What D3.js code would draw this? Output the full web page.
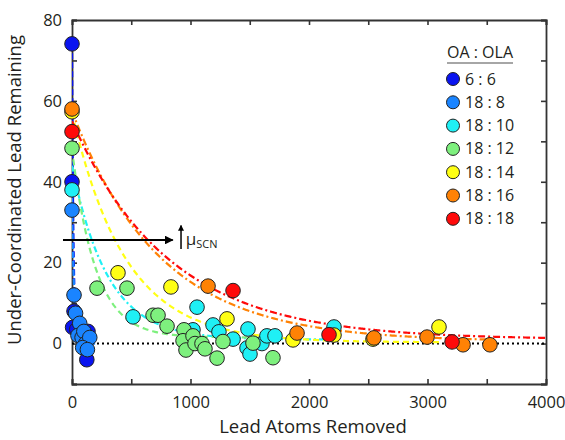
<!DOCTYPE html>
<html>
<head>
<meta charset="utf-8">
<script src="https://cdn.jsdelivr.net/npm/d3@7"></script>
<style>
  body { margin: 0; background: #fff; }
  text { font-family: "Open Sans", "Noto Sans", sans-serif; fill: #231f20; }
</style>
</head>
<body>
<div id="chart"></div>
<script>
// series labels and colours
var ratios = ["6 : 6", "18 : 8", "18 : 10", "18 : 12", "18 : 14", "18 : 16", "18 : 18"]
var colors = ["#0a14f0", "#1a84ff", "#1ff0f5", "#7ef07e", "#ffff14", "#ff8205", "#ff0a0a"]

// points [lead removed, under-coordinated remaining]
var pts66 = [[0, 74.1], [0, 40], [17, 8], [5, 4], [40, 3.5], [135, 3], [125, -4]]
var pts188 = [[0, 33], [17, 12], [30, 7.5], [65, 5], [50, 2], [85, 1.5], [100, 3], [115, 0], [150, 1.5], [90, -1], [130, -1.5]]
var pts1810 = [[0, 38], [515, 6.6], [1021, 3.4], [1055, 9], [1190, 4.6], [1240, 2.9], [1359, 1.1], [1485, 3.6],
  [1477, -1.1], [1502, -2.6], [1603, 0], [1645, 1.9], [1713, 1.9], [2211, 4.1]]
var pts1812 = [[0, 48.3], [211, 13.7], [464, 13.7], [684, 7], [726, 7], [802, 4.3], [945, 3.4], [937, 0.7], [1021, 1.9],
  [962, -1.6], [1038, 0], [1097, 0], [1122, -1.3], [1224, -3.6], [1274, 0.5], [1527, 0.1], [1696, -3.5]]
var pts1814 = [[0, 57.3], [388, 17.5], [835, 14], [1308, 6.1], [1865, 0.9], [2211, 2.1], [2540, 1.1], [3097, 4.1]]
var pts1816 = [[0, 58], [1148, 14.2], [1899, 2.6], [2548, 1.4], [2996, 1.6], [3300, -0.3], [3527, -0.3]]
var pts1818 = [[0, 52.4], [1359, 13.1], [2169, 2.2], [3207, 0.4]]
var allPts = [pts66, pts188, pts1810, pts1812, pts1814, pts1816, pts1818]

// fitted decays y = A*exp(-x/t) + c, drawn up to fitEnd
var fitA = [74, 36, 43, 46.5, 56.7, 57, 54]
var fitT = [12, 18, 300, 200, 450, 740, 815]
var fitC = [0, 0, 1, 1.5, 0.3, 0.5, 1]
var fitEnd = [200, 200, 2200, 1700, 3100, 3550, 4000]

var xTicks = [0, 1000, 2000, 3000, 4000]
var yTicks = [0, 20, 40, 60, 80]

var margin = { top: 20, right: 19, bottom: 56, left: 72 }
var width = 565 - margin.left - margin.right
var height = 440 - margin.top - margin.bottom

var svg = d3.select("#chart")
  .append("svg")
  .attr("width", 565)
  .attr("height", 440)
  .append("g")
  .attr("transform", "translate(" + margin.left + "," + margin.top + ")");

var x = d3.scaleLinear().domain([0, 4000]).range([0, width])
var y = d3.scaleLinear().domain([-10, 80]).range([height, 0])

svg.append("clipPath").attr("id", "clip")
  .append("rect").attr("width", width).attr("height", height)

// axes, ticks point inwards on all four sides
var tickLen = 5
svg.append("g").attr("transform", "translate(0," + height + ")")
  .call(d3.axisBottom(x).tickValues(d3.range(0, 4001, 500)).tickSize(-tickLen).tickPadding(12)
    .tickFormat(function (d) { return xTicks.indexOf(d) >= 0 ? d : ""; }))
svg.append("g")
  .call(d3.axisTop(x).tickValues(d3.range(0, 4001, 500)).tickSize(-tickLen).tickFormat(""))
svg.append("g")
  .call(d3.axisLeft(y).tickValues(d3.range(-10, 81, 10)).tickSize(-tickLen).tickPadding(10)
    .tickFormat(function (d) { return yTicks.indexOf(d) >= 0 ? d : ""; }))
svg.append("g").attr("transform", "translate(" + width + ",0)")
  .call(d3.axisRight(y).tickValues(d3.range(-10, 81, 10)).tickSize(-tickLen).tickFormat(""))

svg.selectAll(".domain").attr("stroke", "#333").attr("stroke-width", 1.8)
svg.selectAll(".tick line").attr("stroke", "#333").attr("stroke-width", 1.6)
svg.selectAll(".tick text").style("font-size", "16.5px").attr("fill", "#231f20")

// axis titles
svg.append("text")
  .attr("x", width / 2 + 4).attr("y", height + 49)
  .attr("text-anchor", "middle").style("font-size", "18.5px")
  .text("Lead Atoms Removed")
svg.append("text")
  .attr("transform", "translate(-51," + (height / 2 - 12) + ") rotate(-90)")
  .attr("text-anchor", "middle").style("font-size", "18.5px")
  .text("Under-Coordinated Lead Remaining")

// zero line
svg.append("line")
  .attr("x1", x(0)).attr("x2", x(4000)).attr("y1", y(0)).attr("y2", y(0))
  .attr("stroke", "#000").attr("stroke-width", 2).attr("stroke-dasharray", "2,3")

// fit curves
var plot = svg.append("g").attr("clip-path", "url(#clip)")
var line = d3.line().x(function (d) { return x(d[0]); }).y(function (d) { return y(d[1]); })
var dashes = ["6,3", "6,3", "6,3,2,3", "6,4", "6,4", "7,3,2,3", "7,3,2,3"]
fitA.forEach(function (A, i) {
  var xs = d3.range(0, Math.min(200, fitEnd[i]), 0.5).concat(d3.range(200, fitEnd[i] + 1, 10))
  var curve = xs.map(function (v) { return [v, A * Math.exp(-v / fitT[i]) + fitC[i]]; })
  plot.append("path")
    .datum(curve)
    .attr("d", line)
    .attr("fill", "none")
    .attr("stroke", colors[i])
    .attr("stroke-width", 2.2)
    .attr("stroke-dasharray", dashes[i])
})

// points
allPts.forEach(function (pts, i) {
  svg.append("g").selectAll("circle")
    .data(pts)
    .enter()
    .append("circle")
    .attr("cx", function (d) { return x(d[0]); })
    .attr("cy", function (d) { return y(d[1]); })
    .attr("r", 7.3)
    .attr("fill", colors[i])
    .attr("stroke", "#222")
    .attr("stroke-width", 1)
})

// chemical potential arrow
svg.append("defs").append("marker")
  .attr("id", "head").attr("viewBox", "0 0 10 10").attr("refX", 9).attr("refY", 5)
  .attr("markerWidth", 4).attr("markerHeight", 4).attr("orient", "auto")
  .append("path").attr("d", "M0,0 L10,5 L0,10 Z").attr("fill", "#000")
svg.append("line")
  .attr("x1", x(-76)).attr("x2", x(850)).attr("y1", y(25.6)).attr("y2", y(25.6))
  .attr("stroke", "#000").attr("stroke-width", 2.2).attr("marker-end", "url(#head)")
svg.append("line")
  .attr("x1", x(920)).attr("x2", x(920)).attr("y1", y(23.4)).attr("y2", y(29.2))
  .attr("stroke", "#000").attr("stroke-width", 1.5).attr("marker-end", "url(#head)")
var mu = svg.append("text").attr("x", x(960)).attr("y", y(24.4)).style("font-size", "17px")
mu.append("tspan").text("μ")
mu.append("tspan").attr("dy", 3).style("font-size", "11px").text("SCN")

// legend
var legend = svg.append("g").attr("transform", "translate(" + (453 - margin.left) + "," + (53 - margin.top) + ")")
legend.append("text").attr("x", 27).attr("y", 5).attr("text-anchor", "middle")
  .style("font-size", "16px").text("OA : OLA")
legend.append("line").attr("x1", -6).attr("x2", 60).attr("y1", 10).attr("y2", 10)
  .attr("stroke", "#888").attr("stroke-width", 1.5)
ratios.forEach(function (r, i) {
  var g = legend.append("g").attr("transform", "translate(0," + (26 + i * 23.3) + ")")
  g.append("circle").attr("r", 6.5).attr("fill", colors[i]).attr("stroke", "#222").attr("stroke-width", 1)
  g.append("text").attr("x", 12).attr("y", 5.5).style("font-size", "16px").text(r)
})
</script>
</body>
</html>
